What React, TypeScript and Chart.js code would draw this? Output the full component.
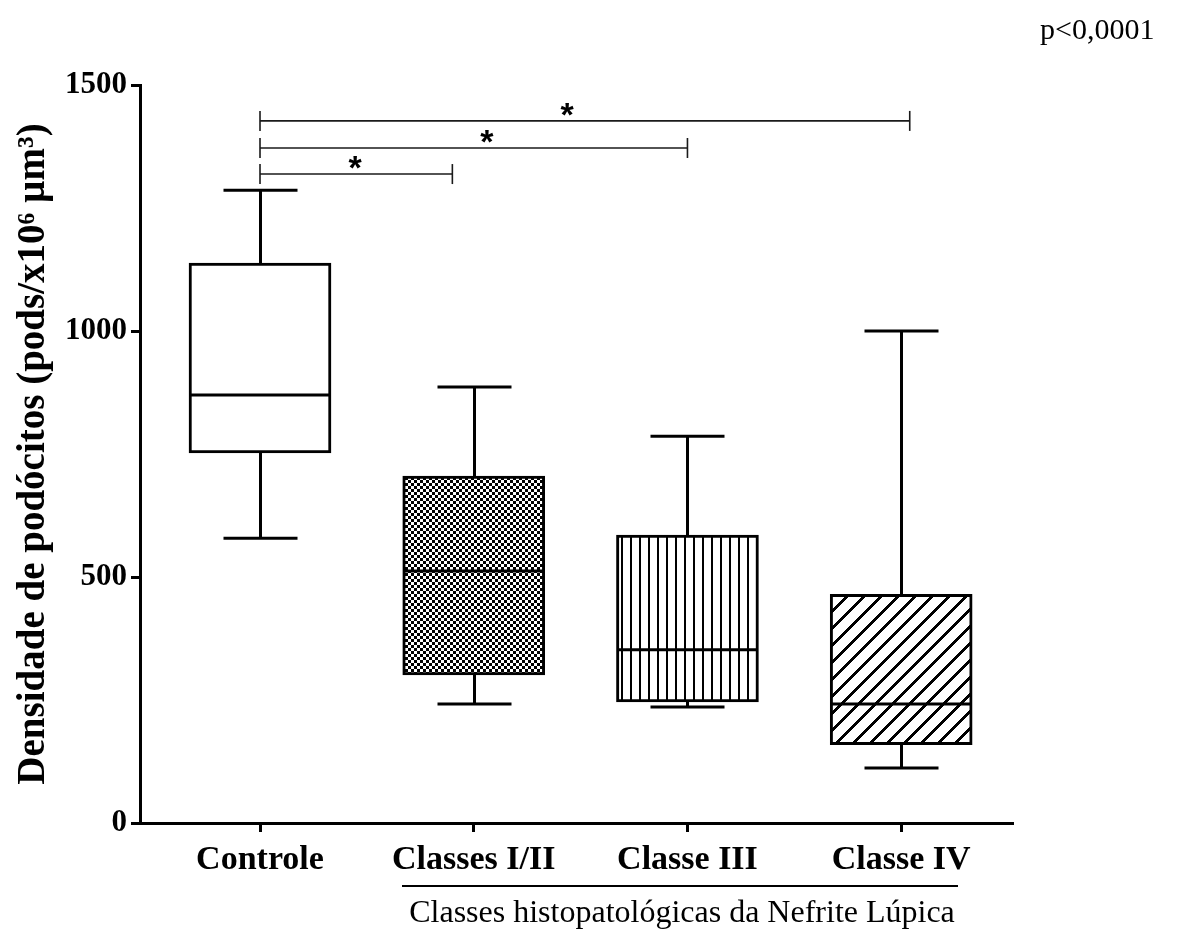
import React, { useEffect, useRef } from 'react';
import { Chart, registerables } from 'chart.js';

Chart.register(...registerables);

// Box-plot summary per histopathological group
const groups = ['Controle', 'Classes I/II', 'Classe III', 'Classe IV'];
const positions = [1, 2, 3, 4];
const whiskerMin = [579, 242, 236, 112];
const q1 = [752, 301, 246, 159];
const median = [870, 512, 352, 242];
const q3 = [1138, 705, 585, 465];
const whiskerMax = [1286, 886, 786, 1000];
const yTicks = [0, 500, 1000, 1500];

// Significance brackets (Controle vs each class)
const bracketFrom = [1, 1, 1];
const bracketTo = [1.9, 3.0, 4.04];
const bracketY = [1319, 1372, 1427];
const starX = [1.445, 2.062, 2.437];

const yTitle = 'Densidade de podócitos (pods/x10\u2076 \u00b5m\u00b3)';
const subTitle = 'Classes histopatológicas da Nefrite Lúpica';
const pValue = 'p<0,0001';

const BOX_W = 142;
const CAP_W = 74;
const SERIF = '"Liberation Serif", "Times New Roman", serif';

function makePattern(
  ctx: CanvasRenderingContext2D,
  w: number,
  h: number,
  isBlack: (x: number, y: number) => boolean
): CanvasPattern | string {
  const c = document.createElement('canvas');
  c.width = w;
  c.height = h;
  const g = c.getContext('2d');
  if (!g) return '#fff';
  const img = g.createImageData(w, h);
  for (let y = 0; y < h; y++) {
    for (let x = 0; x < w; x++) {
      const v = isBlack(x, y) ? 0 : 255;
      const k = (y * w + x) * 4;
      img.data[k] = v;
      img.data[k + 1] = v;
      img.data[k + 2] = v;
      img.data[k + 3] = 255;
    }
  }
  g.putImageData(img, 0, 0);
  return ctx.createPattern(c, 'repeat') || '#fff';
}

const boxPlugin = {
  id: 'boxWhiskers',
  afterDatasetsDraw(chart: any) {
    const { ctx, scales } = chart;
    const x = scales.x;
    const y = scales.y;
    ctx.save();
    ctx.strokeStyle = '#000';
    ctx.lineWidth = 3;
    ctx.lineCap = 'butt';
    const seg = (x1: number, y1: number, x2: number, y2: number) => {
      ctx.beginPath();
      ctx.moveTo(x1, y1);
      ctx.lineTo(x2, y2);
      ctx.stroke();
    };
    positions.forEach((p, i) => {
      const cx = Math.round(x.getPixelForValue(p)) + 0.5;
      const yTop = y.getPixelForValue(whiskerMax[i]);
      const yQ3 = y.getPixelForValue(q3[i]);
      const yMed = y.getPixelForValue(median[i]);
      const yQ1 = y.getPixelForValue(q1[i]);
      const yBot = y.getPixelForValue(whiskerMin[i]);
      seg(cx, yQ3, cx, yTop);
      seg(cx - CAP_W / 2, yTop, cx + CAP_W / 2, yTop);
      seg(cx, yQ1, cx, yBot);
      seg(cx - CAP_W / 2, yBot, cx + CAP_W / 2, yBot);
      seg(cx - BOX_W / 2 + 1, yMed, cx + BOX_W / 2 - 1, yMed);
    });

    // significance brackets with stars
    ctx.strokeStyle = '#1a1a1a';
    ctx.lineWidth = 1.6;
    ctx.fillStyle = '#000';
    ctx.font = 'bold 34px "Liberation Sans", Arial, sans-serif';
    ctx.textAlign = 'center';
    ctx.textBaseline = 'alphabetic';
    bracketY.forEach((v, i) => {
      const by = y.getPixelForValue(v);
      const x1 = x.getPixelForValue(bracketFrom[i]);
      const x2 = x.getPixelForValue(bracketTo[i]);
      seg(x1, by, x2, by);
      seg(x1, by - 10, x1, by + 10);
      seg(x2, by - 10, x2, by + 10);
      ctx.fillText('*', x.getPixelForValue(starX[i]), by + 5);
    });
    ctx.restore();
  },
  afterDraw(chart: any) {
    const { ctx } = chart;
    ctx.save();
    ctx.fillStyle = '#000';
    ctx.strokeStyle = '#000';
    // line over the lupus-nephritis classes
    ctx.lineWidth = 2;
    ctx.beginPath();
    ctx.moveTo(402, 886);
    ctx.lineTo(958, 886);
    ctx.stroke();
    ctx.font = `32px ${SERIF}`;
    ctx.textAlign = 'center';
    ctx.textBaseline = 'alphabetic';
    ctx.fillText(subTitle, 682, 922);
    ctx.font = `30px ${SERIF}`;
    ctx.textAlign = 'left';
    ctx.fillText(pValue, 1040, 39);
    ctx.restore();
  },
};

export default function App() {
  const canvasRef = useRef<HTMLCanvasElement | null>(null);

  useEffect(() => {
    document.body.style.margin = '0';
    const canvas = canvasRef.current;
    if (!canvas) return;
    const ctx = canvas.getContext('2d');
    if (!ctx) return;

    const fills = [
      '#ffffff',
      makePattern(ctx, 6, 6, (px, py) => (Math.floor(px / 3) + Math.floor(py / 3)) % 2 === 0),
      makePattern(ctx, 9, 1, (px) => px < 2),
      makePattern(ctx, 17, 17, (px, py) => (px + py) % 17 >= 13),
    ];

    const chart = new Chart(ctx, {
      type: 'bar',
      data: {
        labels: groups,
        datasets: [
          {
            data: positions.map((p, i) => ({ x: p, y: [q1[i], q3[i]] })) as any,
            backgroundColor: fills as any,
            borderColor: '#000',
            borderWidth: 3,
            borderSkipped: false,
            barThickness: BOX_W,
          },
        ],
      },
      options: {
        responsive: false,
        maintainAspectRatio: false,
        animation: false,
        layout: { padding: { top: 85, right: 165, bottom: 0, left: 0 } },
        plugins: {
          legend: { display: false },
          tooltip: { enabled: false },
        },
        scales: {
          x: {
            type: 'linear',
            offset: false,
            min: 0.4385,
            max: 4.5185,
            afterBuildTicks: (scale: any) => {
              scale.ticks = positions.map((v) => ({ value: v }));
            },
            afterFit: (scale: any) => {
              scale.height = 112;
            },
            ticks: {
              autoSkip: false,
              maxRotation: 0,
              padding: 8,
              color: '#000',
              font: { family: SERIF, weight: 'bold', size: 34 },
              callback: (v: any) => {
                const idx = positions.indexOf(Number(v));
                return idx >= 0 ? groups[idx] : '';
              },
            },
            grid: {
              display: true,
              offset: false,
              drawOnChartArea: false,
              drawTicks: true,
              tickLength: 9,
              lineWidth: 3,
              color: '#000',
            },
            border: { display: true, width: 3, color: '#000' },
          },
          y: {
            type: 'linear',
            min: 0,
            max: 1500,
            afterBuildTicks: (scale: any) => {
              scale.ticks = yTicks.map((v) => ({ value: v }));
            },
            afterFit: (scale: any) => {
              scale.width = 140;
            },
            ticks: {
              padding: 4,
              color: '#000',
              font: { family: SERIF, weight: 'bold', size: 31 },
              callback: (v: any) => String(v),
            },
            grid: {
              display: true,
              drawOnChartArea: false,
              drawTicks: true,
              tickLength: 9,
              lineWidth: 3,
              color: '#000',
            },
            border: { display: true, width: 3, color: '#000' },
            title: {
              display: true,
              text: yTitle,
              color: '#000',
              font: { family: SERIF, weight: 'bold', size: 39 },
              padding: { top: 11, bottom: 0 },
            },
          },
        },
      },
      plugins: [boxPlugin],
    });

    return () => {
      chart.destroy();
    };
  }, []);

  return (
    <div style={{ width: 1177, height: 935, background: '#fff' }}>
      <canvas ref={canvasRef} width={1177} height={935} />
    </div>
  );
}
